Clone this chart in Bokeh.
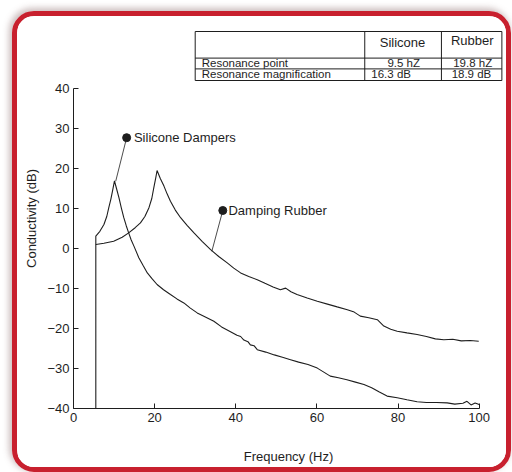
from bokeh.plotting import figure
from bokeh.models import Range1d
from bokeh.core.properties import value
from bokeh.embed import file_html
from bokeh.resources import INLINE

# ---- data ----
sil_x = [5.5, 5.5, 6.5, 7.5, 8.2, 8.7, 9.2, 9.6, 10.1, 10.6, 11.2, 11.8, 12.4, 13.0, 13.6,
         14.2, 14.9, 16.1, 17.2, 18.2, 19.4, 20.6, 22.2, 23.9, 25.5, 27.2, 28.8, 30.5,
         32.5, 34.6, 36.5, 38.7, 40.3, 41.2, 42.0, 43.0, 43.6, 44.5, 45.3, 47.4, 49.5,
         51.5, 53.5, 55.5, 57.8, 60.1, 61.7, 63.3, 65.3, 67.4, 69.5, 71.6, 73.5, 75.4,
         77.3, 79.8, 82.2, 84.7, 87.0, 89.5, 92.1, 94.0, 96.0, 97.0, 98.0, 99.0, 100.0]
sil_y = [-40.0, 3.1, 4.3, 6.0, 8.0, 10.2, 12.3, 14.3, 16.9, 15.0, 12.7, 10.1, 7.7, 5.7, 3.9,
         2.2, 0.6, -2.3, -4.3, -6.1, -7.6, -9.0, -10.3, -11.5, -12.6, -13.6, -14.9, -16.1,
         -17.1, -18.2, -19.6, -20.8, -21.7, -22.0, -22.9, -23.3, -24.1, -24.3, -25.3, -25.9, -26.6,
         -27.2, -27.8, -28.4, -29.0, -29.9, -30.9, -31.9, -32.3, -32.8, -33.4, -34.0, -34.8, -35.9,
         -36.9, -37.3, -37.8, -38.3, -38.5, -38.5, -38.6, -38.9, -38.7, -38.2, -39.1, -38.6, -39.0]

rub_x = [5.5, 7.5, 9.9, 12.0, 13.6, 15.2, 16.5, 17.6, 18.6, 19.3, 19.8, 20.3, 20.6, 21.4,
         22.3, 23.1, 23.9, 25.1, 26.4, 28.0, 29.7, 31.7, 33.8, 35.8, 37.9, 39.5, 41.2, 43.2,
         45.3, 47.2, 49.2, 51.0, 52.3, 53.6, 55.1, 57.6, 60.1, 62.6, 65.0, 67.5, 69.2, 70.7,
         72.8, 74.9, 76.5, 78.2, 79.8, 82.2, 84.7, 87.0, 89.2, 91.3, 93.5, 95.6, 97.8, 99.9]
rub_y = [1.0, 1.3, 1.8, 2.8, 3.9, 5.2, 6.4, 8.0, 10.2, 12.5, 15.2, 17.8, 19.5, 17.5,
         15.6, 13.6, 11.8, 9.6, 7.7, 5.8, 3.9, 1.8, -0.3, -2.0, -3.6, -4.9, -6.1, -7.0,
         -7.8, -8.7, -9.6, -10.3, -9.9, -10.8, -11.5, -12.4, -13.2, -13.9, -14.6, -15.3, -15.9, -16.9,
         -17.3, -17.8, -19.4, -20.2, -20.7, -21.1, -21.5, -22.0, -22.6, -22.8, -22.7, -23.1, -23.0, -23.2]

x_ticks = [0, 20, 40, 60, 80, 100]
y_ticks = [-40, -30, -20, -10, 0, 10, 20, 30, 40]

table_header = ["Silicone", "Rubber"]
table_rows = ["Resonance point", "Resonance magnification"]
table_values = [["9.5 hZ", "19.8 hZ"], ["16.3 dB", "18.9 dB"]]

FONT = "Liberation Sans"
INK = "#1e1e1e"

p = figure(width=499, height=461, output_backend="svg", toolbar_location=None,
           x_range=Range1d(0, 106), y_range=Range1d(-40, 55),
           min_border_left=56, min_border_right=13, min_border_top=12, min_border_bottom=69)
p.grid.visible = False
p.outline_line_color = None
p.background_fill_color = "white"
p.border_fill_color = "white"
p.styles = {
    "margin-left": "12px",
    "margin-top": "11px",
    "border": "5px solid #c8202e",
    "border-radius": "22px",
    "box-shadow": "-2px -2px 6px 1px rgba(110,70,70,0.35)",
    "overflow": "hidden",
}

# axes
for ax in (p.xaxis[0], p.yaxis[0]):
    ax.axis_line_color = INK
    ax.major_tick_line_color = INK
    ax.minor_tick_line_color = "#555555"
    ax.major_label_text_font = FONT
    ax.major_label_text_font_size = "13px"
    ax.major_label_text_color = INK
    ax.axis_label_text_font = FONT
    ax.axis_label_text_font_size = "13px"
    ax.axis_label_text_font_style = "normal"
    ax.axis_label_text_color = INK
    ax.major_tick_in = 5
    ax.major_tick_out = 0

p.xaxis.bounds = (0, 100)
p.xaxis.ticker = x_ticks
p.xaxis[0].ticker.num_minor_ticks = 20
p.xaxis.minor_tick_in = 0
p.xaxis.minor_tick_out = 2
p.xaxis.major_label_standoff = 4
p.xaxis.axis_label = "Frequency (Hz)"
p.xaxis.axis_label_standoff = 24

p.yaxis.bounds = (-40, 40)
p.yaxis.ticker = y_ticks
p.yaxis[0].ticker.num_minor_ticks = 10
p.yaxis.minor_tick_in = 2
p.yaxis.minor_tick_out = 0
p.yaxis.major_label_standoff = 4
p.yaxis.axis_label = "Conductivity (dB)"
p.yaxis.axis_label_standoff = 5

# curves
p.line(sil_x, sil_y, line_color=INK, line_width=1.1)
p.line(rub_x, rub_y, line_color=INK, line_width=1.1)

# annotations with leader lines
p.segment(x0=[13.1, 36.8], y0=[27.7, 9.5], x1=[10.4, 34.1], y1=[16.8, -0.7],
          line_color=INK, line_width=0.8)
p.scatter(x=[13.1, 36.8], y=[27.7, 9.5], size=8, color=INK)
p.text(x=[14.9, 38.2], y=[27.7, 9.5], text=["Silicone Dampers", "Damping Rubber"],
       text_font=value(FONT), text_font_size=value("13px"), text_color=INK,
       text_baseline="middle", text_align="left")

# table
tx = [30.0, 71.8, 90.7, 105.6]
ty = [54.25, 47.6, 44.9, 42.0]
p.segment(x0=[tx[0]] * 4, x1=[tx[3]] * 4, y0=ty, y1=ty, line_color=INK, line_width=1)
p.segment(x0=tx, x1=tx, y0=[ty[0]] * 4, y1=[ty[3]] * 4, line_color=INK, line_width=1)
p.text(x=[81.1, 98.3], y=[51.6, 52.0], text=table_header,
       text_font=value(FONT), text_font_size=value("13px"), text_color=INK,
       text_baseline="middle", text_align="center")
p.text(x=[31.6, 31.6], y=[46.45, 43.6], text=table_rows,
       text_font=value(FONT), text_font_size=value("11.5px"), text_color=INK,
       text_baseline="middle", text_align="left")
p.text(x=[81.4, 98.4, 78.3, 98.1], y=[46.45, 46.45, 43.6, 43.6],
       text=[table_values[0][0], table_values[0][1], table_values[1][0], table_values[1][1]],
       text_font=value(FONT), text_font_size=value("11.5px"), text_color=INK,
       text_baseline="middle", text_align="center")

open("out.html", "w").write(file_html(p, INLINE))
